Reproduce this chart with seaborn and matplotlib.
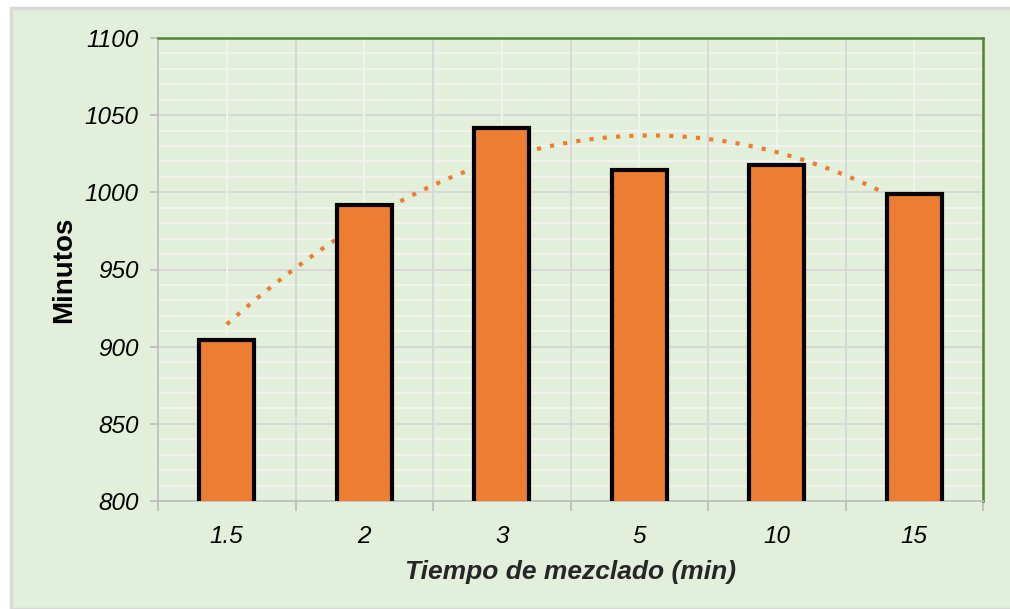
import numpy as np
import pandas as pd
import matplotlib
matplotlib.use("Agg")
import matplotlib.pyplot as plt
import seaborn as sns
from matplotlib.patches import Rectangle
from matplotlib.ticker import MultipleLocator

OUTPUT_FILE = "out.png"

# data
mixing_times = ["1.5", "2", "3", "5", "10", "15"]
minutes = [904, 992, 1042, 1014.5, 1018, 999]

BG = "#E2EFDA"
ORANGE = "#ED7D31"
DARK_GREEN = "#548235"
GRID_MAJOR = "#D6D6D6"
GRID_MINOR = "#F4F4F0"

sns.set_theme(style="white")
plt.rcParams['font.family'] = ['Liberation Sans', 'DejaVu Sans']

df = pd.DataFrame({'tiempo': mixing_times, 'minutos': minutes})

fig = plt.figure(figsize=(10.10, 6.09), dpi=100)
fig.patch.set_facecolor("white")
# chart area box (Excel style), light grey border on left/top
fig.patches.append(Rectangle((11 / 1010, 0), 1.2, 1 - 8 / 609, transform=fig.transFigure,
                             facecolor=BG, edgecolor="#D9D9D9", linewidth=2.5, zorder=-5))

ax = fig.add_axes([158 / 1010, 1 - 501 / 609, (983 - 158) / 1010, (501 - 38) / 609])
ax.set_zorder(1)
ax.set_facecolor(BG)

n = len(mixing_times)

# polynomial (order 2) trendline over category positions, like Excel
pos = np.arange(n)
coef = np.polyfit(pos + 1, minutes, 2)
xs = np.linspace(0, n - 1, 200)
ax.plot(xs, np.polyval(coef, xs + 1), color=ORANGE, linestyle=(0, (1, 2.2)),
        linewidth=3, dash_capstyle="butt", zorder=2)

sns.barplot(data=df, x='tiempo', y='minutos', order=mixing_times, color=ORANGE,
            saturation=1, width=0.4, edgecolor="black", linewidth=3, ax=ax, zorder=3)

ax.set_ylim(800, 1100)
ax.set_xlim(-0.5, n - 0.5)
ax.yaxis.set_major_locator(MultipleLocator(50))
ax.yaxis.set_minor_locator(MultipleLocator(10))

# horizontal grid: white minor every 10, grey major every 50
ax.grid(which="minor", axis="y", color=GRID_MINOR, linewidth=1.3)
ax.grid(which="major", axis="y", color=GRID_MAJOR, linewidth=1.3)
ax.set_axisbelow(True)
# vertical grid: white through category centres, grey at category boundaries
ax.vlines(pos, 800, 1100, color=GRID_MINOR, linewidth=1.3, zorder=0.8)
boundaries = np.arange(-0.5, n, 1.0)
ax.vlines(boundaries[1:-1], 800, 1100, color=GRID_MAJOR, linewidth=1.3, zorder=0.9)
# category boundary ticks under the x axis
ax.set_xticks(boundaries, minor=True)

for side in ["top", "right"]:
    ax.spines[side].set_color(DARK_GREEN)
    ax.spines[side].set_linewidth(1.8)
for side in ["left", "bottom"]:
    ax.spines[side].set_color("#BFBFBF")
    ax.spines[side].set_linewidth(1.3)

ax.tick_params(axis="y", which="major", left=True, length=6, width=1.3, color="#BFBFBF",
               labelsize=17.5, pad=8)
ax.tick_params(axis="y", which="minor", left=False)
ax.tick_params(axis="x", which="major", bottom=False, labelsize=17.5, pad=11)
ax.tick_params(axis="x", which="minor", bottom=True, length=7, width=1.3, color="#BFBFBF")
for lab in ax.get_xticklabels() + ax.get_yticklabels():
    lab.set_fontstyle("italic")
    lab.set_color("black")

ax.set_xlabel("Tiempo de mezclado (min)", fontsize=19, fontweight="bold",
              fontstyle="italic", labelpad=9)
ax.set_ylabel("Minutos", fontsize=20, fontweight="bold", labelpad=5, color="black")

plt.savefig(OUTPUT_FILE, dpi=100, facecolor=fig.get_facecolor())
plt.close()
